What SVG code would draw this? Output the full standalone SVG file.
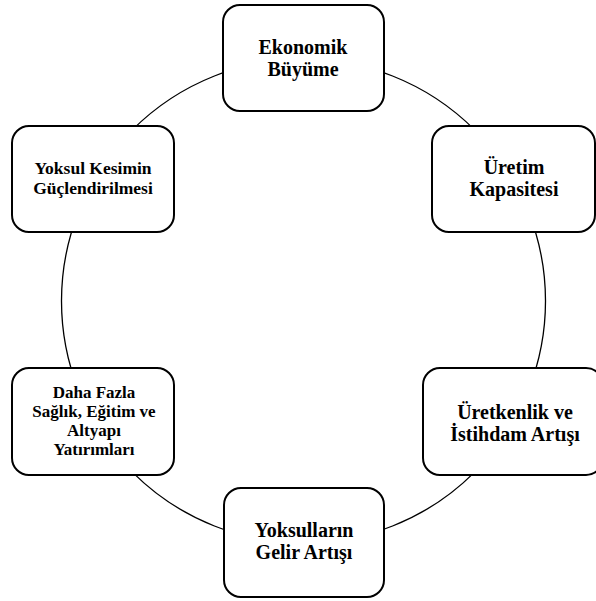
<svg xmlns="http://www.w3.org/2000/svg" width="596" height="601" viewBox="0 0 596 601">
<style>
.box{fill:#fff;stroke:#000;stroke-width:2}
text{font-family:'Liberation Serif','Times New Roman',Times,serif;font-weight:bold;fill:#000;text-anchor:middle}
.big{font-size:20px}
.sm{font-size:17.5px}
.xs{font-size:17px}
.conn{fill:none;stroke:#000;stroke-width:1.3}
</style>
<rect width="596" height="601" fill="#fff"/>
<g id="connectors">
<circle class="conn" cx="303.5" cy="301" r="242"/>
</g>
<g id="n1">
<rect class="box" x="223" y="5" width="161" height="106" rx="17"/>
<text class="big" x="303" y="54">Ekonomik</text>
<text class="big" x="303" y="76">Büyüme</text>
</g>
<g id="n2">
<rect class="box" x="432" y="126" width="163" height="106" rx="17"/>
<text class="big" x="514" y="174">Üretim</text>
<text class="big" x="514" y="196">Kapasitesi</text>
</g>
<g id="n3">
<rect class="box" x="423" y="368" width="180" height="107" rx="17"/>
<text class="big" x="515" y="419">Üretkenlik ve</text>
<text class="big" x="515" y="441">İstihdam Artışı</text>
</g>
<g id="n4">
<rect class="box" x="224" y="488" width="160" height="109" rx="17"/>
<text class="big" x="304" y="537">Yoksulların</text>
<text class="big" x="304" y="559">Gelir Artışı</text>
</g>
<g id="n5">
<rect class="box" x="12" y="368" width="162" height="107" rx="17"/>
<text class="xs" x="94" y="398">Daha Fazla</text>
<text class="xs" x="94" y="417">Sağlık, Eğitim ve</text>
<text class="xs" x="94" y="436">Altyapı</text>
<text class="xs" x="94" y="455">Yatırımları</text>
</g>
<g id="n6">
<rect class="box" x="12" y="126" width="162" height="106" rx="17"/>
<text class="sm" x="93" y="174">Yoksul Kesimin</text>
<text class="sm" x="93" y="194">Güçlendirilmesi</text>
</g>
</svg>
